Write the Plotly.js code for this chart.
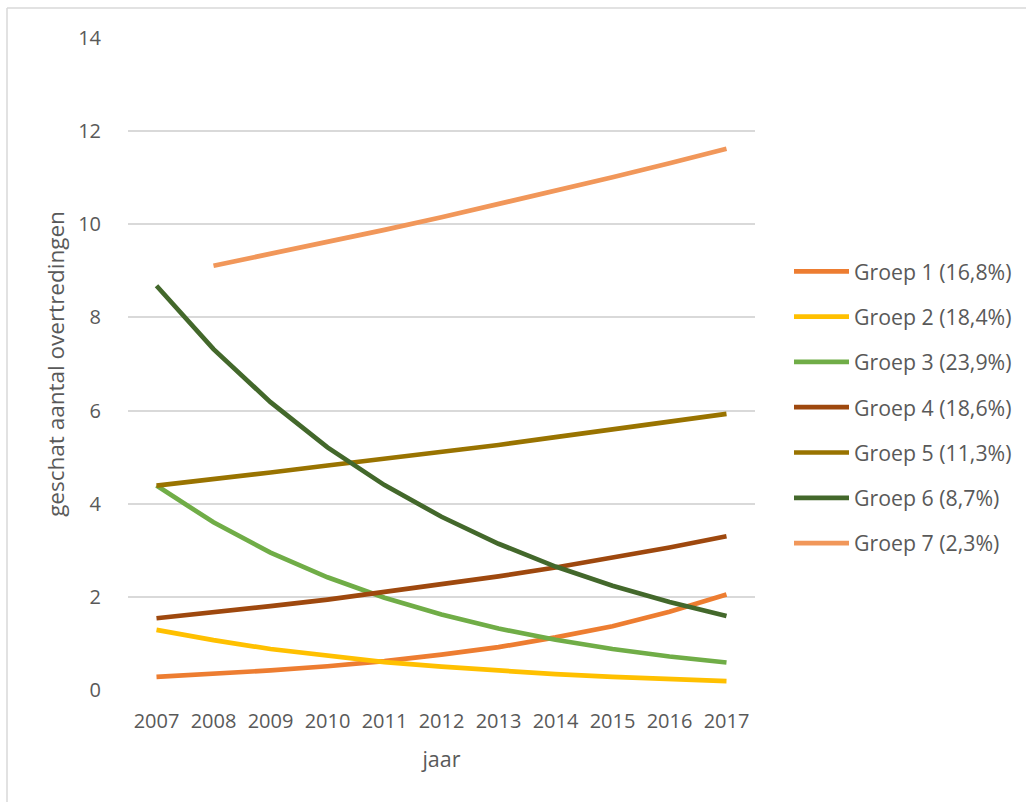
<!DOCTYPE html>
<html>
<head>
<meta charset="utf-8">
<script src="https://cdn.plot.ly/plotly-3.0.1.min.js"></script>
<style>
html,body{margin:0;padding:0;background:#fff;}
#chart{width:1026px;height:802px;}
</style>
</head>
<body>
<div id="chart"></div>
<script>
var years = [2007, 2008, 2009, 2010, 2011, 2012, 2013, 2014, 2015, 2016, 2017];
var groep1 = [0.28, 0.34, 0.42, 0.51, 0.62, 0.76, 0.92, 1.13, 1.37, 1.68, 2.05];
var groep2 = [1.29, 1.07, 0.88, 0.73, 0.60, 0.50, 0.41, 0.34, 0.28, 0.23, 0.19];
var groep3 = [4.39, 3.60, 2.95, 2.42, 1.98, 1.62, 1.32, 1.08, 0.88, 0.72, 0.59];
var groep4 = [1.54, 1.66, 1.80, 1.94, 2.10, 2.26, 2.44, 2.63, 2.84, 3.06, 3.30];
var groep5 = [4.39, 4.52, 4.67, 4.82, 4.96, 5.10, 5.26, 5.43, 5.59, 5.76, 5.93];
var groep6 = [8.68, 7.32, 6.18, 5.21, 4.40, 3.72, 3.14, 2.65, 2.24, 1.89, 1.59];
var groep7 = [null, 9.11, 9.36, 9.62, 9.88, 10.15, 10.43, 10.72, 11.01, 11.31, 11.62];
var names = ['Groep 1 (16,8%)', 'Groep 2 (18,4%)', 'Groep 3 (23,9%)', 'Groep 4 (18,6%)',
             'Groep 5 (11,3%)', 'Groep 6 (8,7%)', 'Groep 7 (2,3%)'];
var yTicks = [0, 2, 4, 6, 8, 10, 12, 14];

var series = [groep1, groep2, groep3, groep4, groep5, groep6, groep7];
var colors = ['#ED7D31', '#FFC000', '#70AD47', '#9E480E', '#997300', '#43682B', '#F1975A'];

var traces = series.map(function (vals, i) {
  return {
    x: years, y: vals, name: names[i], type: 'scatter', mode: 'lines',
    legendgroup: 'g' + i,
    line: {color: colors[i], width: 4.7},
    connectgaps: false, hoverinfo: 'x+y+name'
  };
});

var fontFam = '"Open Sans", "Noto Sans", sans-serif';
var txt = '#595959';
var W = 1026, H = 802;
var L = 128, R = W - 755, T = 38, B = H - 690;
var pw = W - L - R, ph = H - T - B;
function px2x(p) { return (p - L) / pw; }
function px2y(p) { return (H - B - p) / ph; }

var layout = {
  width: W, height: H,
  margin: {l: L, r: R, t: T, b: B, pad: 0},
  paper_bgcolor: '#fff', plot_bgcolor: '#fff',
  font: {family: fontFam, color: txt, size: 20},
  showlegend: true,
  legend: {
    xref: 'container', yref: 'container',
    x: 789 / W, y: 1 - 251 / H, xanchor: 'left', yanchor: 'top',
    font: {family: fontFam, color: txt, size: 21.3},
    tracegroupgap: 14.6, itemwidth: 55, bgcolor: 'rgba(0,0,0,0)'
  },
  xaxis: {
    range: [2006.5, 2017.5], tickmode: 'array', tickvals: years,
    ticktext: years.map(String), showgrid: false, zeroline: false, showline: false,
    ticks: 'outside', ticklen: 13, tickcolor: 'rgba(0,0,0,0)',
    tickfont: {family: fontFam, color: txt, size: 20},
    title: {text: 'jaar', font: {family: fontFam, color: txt, size: 21.5}, standoff: 18},
    fixedrange: true
  },
  yaxis: {
    range: [0, 14], tickmode: 'array', tickvals: yTicks, ticktext: yTicks.map(String),
    showgrid: true, gridcolor: '#d9d9d9', gridwidth: 1.5,
    zeroline: false, showline: false,
    ticks: 'outside', ticklen: 22, tickcolor: 'rgba(0,0,0,0)',
    tickfont: {family: fontFam, color: txt, size: 20},
    title: {text: 'geschat aantal overtredingen', font: {family: fontFam, color: txt, size: 22.5}, standoff: 7},
    fixedrange: true
  },
  shapes: [
    {type: 'line', xref: 'paper', yref: 'paper', x0: px2x(7), x1: px2x(7), y0: px2y(8), y1: px2y(H),
     line: {color: '#d9d9d9', width: 1.5}},
    {type: 'line', xref: 'paper', yref: 'paper', x0: px2x(7), x1: px2x(W), y0: px2y(8), y1: px2y(8),
     line: {color: '#d9d9d9', width: 1.5}}
  ]
};

Plotly.newPlot('chart', traces, layout, {displayModeBar: false, responsive: false});
</script>
</body>
</html>
